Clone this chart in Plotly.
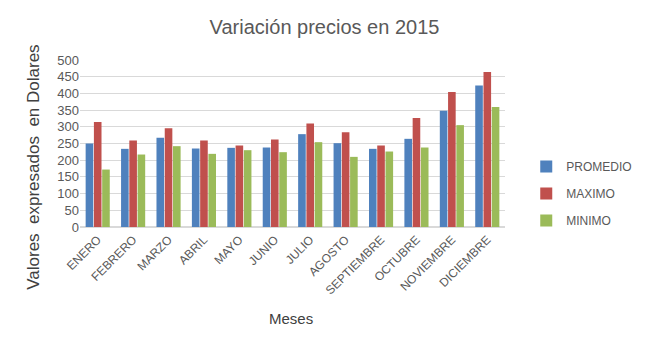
import plotly.graph_objects as go

meses = ["ENERO", "FEBRERO", "MARZO", "ABRIL", "MAYO", "JUNIO", "JULIO",
         "AGOSTO", "SEPTIEMBRE", "OCTUBRE", "NOVIEMBRE", "DICIEMBRE"]
promedio = [250, 234, 267, 235, 237, 238, 278, 251, 234, 264, 348, 424]
maximo = [314, 259, 296, 259, 244, 262, 310, 284, 244, 326, 404, 464]
minimo = [172, 217, 242, 219, 230, 224, 254, 210, 226, 238, 305, 359]

series = [("PROMEDIO", promedio, "#4F81BD"),
          ("MAXIMO", maximo, "#C0504D"),
          ("MINIMO", minimo, "#9BBB59")]

fig = go.Figure()
for name, vals, col in series:
    fig.add_trace(go.Bar(x=meses, y=vals, name=name, marker_color=col,
                         marker_line_width=0, legendgroup=name))

font_family = "Liberation Sans, Arial, sans-serif"
fig.update_layout(
    width=649, height=351,
    paper_bgcolor="white", plot_bgcolor="white",
    margin=dict(l=80, r=119, t=60, b=124),
    title=dict(text="Variación precios en 2015", x=0.5, xanchor="center",
               y=0.922, yanchor="middle",
               font=dict(family=font_family, size=20, color="#595959")),
    font=dict(family=font_family, color="#595959"),
    barmode="group", bargap=0.3, bargroupgap=0.08,
    legend=dict(x=1.05, y=0.2, xanchor="left", yanchor="middle",
                font=dict(size=12, color="#595959"), tracegroupgap=8,
                bgcolor="rgba(0,0,0,0)"),
    showlegend=True,
    annotations=[
        dict(text="Valores  expresados  en Dolares", xref="paper", yref="paper",
             x=(30 - 80) / 450, y=(227 - 167) / 167, xanchor="center",
             yanchor="middle", textangle=-90, showarrow=False,
             font=dict(size=17, color="#404040")),
        dict(text="Meses", xref="paper", yref="paper",
             x=(303 - 80) / 450, y=(227 - 318) / 167, xanchor="center",
             yanchor="middle", showarrow=False,
             font=dict(size=15, color="#404040")),
    ],
)
fig.update_yaxes(range=[0, 500], dtick=50, showgrid=True, gridcolor="#D9D9D9",
                 gridwidth=1, zeroline=True, zerolinecolor="#D9D9D9",
                 tickfont=dict(size=13, color="#595959"), ticks="")
fig.update_xaxes(tickangle=-45, tickfont=dict(size=12, color="#595959"),
                 showline=True, linecolor="#D9D9D9", ticks="")

fig.write_html("out.html")
